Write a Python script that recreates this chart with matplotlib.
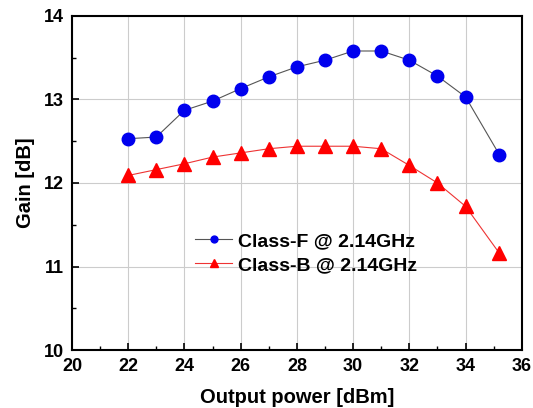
import matplotlib
matplotlib.use("Agg")
import matplotlib.pyplot as plt
from matplotlib.ticker import MultipleLocator

# Output power [dBm]
power = [22, 23, 24, 25, 26, 27, 28, 29, 30, 31, 32, 33, 34, 35.2]
# Gain [dB]
gain_class_f = [12.53, 12.55, 12.87, 12.98, 13.13, 13.27, 13.39, 13.47, 13.58, 13.58, 13.47, 13.28, 13.03, 12.34]
gain_class_b = [12.09, 12.16, 12.23, 12.31, 12.36, 12.41, 12.44, 12.44, 12.44, 12.41, 12.21, 12.00, 11.72, 11.16]

plt.rcParams['font.family'] = ['Liberation Sans', 'DejaVu Sans']
plt.rcParams['font.weight'] = 'bold'

fig = plt.figure(figsize=(5.33, 4.08), dpi=100)
ax = fig.add_axes([0.135, 0.142, 0.844, 0.819])

ax.plot(power, gain_class_f, color='#555555', lw=0.8, marker='o', ms=9,
        mfc='#0000ee', mec='#0000ee', label='Class-F @ 2.14GHz', zorder=3)
ax.plot(power, gain_class_b, color='#ee3333', lw=0.8, marker='^', ms=10,
        mfc='#ff0000', mec='#ff0000', label='Class-B @ 2.14GHz', zorder=3)

ax.set_xlim(20, 36)
ax.set_ylim(10, 14)
ax.xaxis.set_major_locator(MultipleLocator(2))
ax.xaxis.set_minor_locator(MultipleLocator(1))
ax.yaxis.set_major_locator(MultipleLocator(1))
ax.yaxis.set_minor_locator(MultipleLocator(0.5))
ax.tick_params(which='major', direction='in', length=5, width=1.2, labelsize=13, pad=6)
ax.tick_params(which='minor', direction='in', length=3, width=1.0)
ax.grid(True, which='major', color='#cccccc', lw=0.8)
for s in ax.spines.values():
    s.set_linewidth(1.5)

ax.set_xlabel('Output power [dBm]', fontsize=14.5, fontweight='bold', labelpad=9)
ax.set_ylabel('Gain [dB]', fontsize=14.5, fontweight='bold', labelpad=6)

leg = ax.legend(loc='upper left', bbox_to_anchor=(0.235, 0.405), frameon=False,
                fontsize=14, markerscale=0.55, handlelength=1.9, handletextpad=0.3,
                labelspacing=0.35)

fig.savefig('out.png', dpi=100)
